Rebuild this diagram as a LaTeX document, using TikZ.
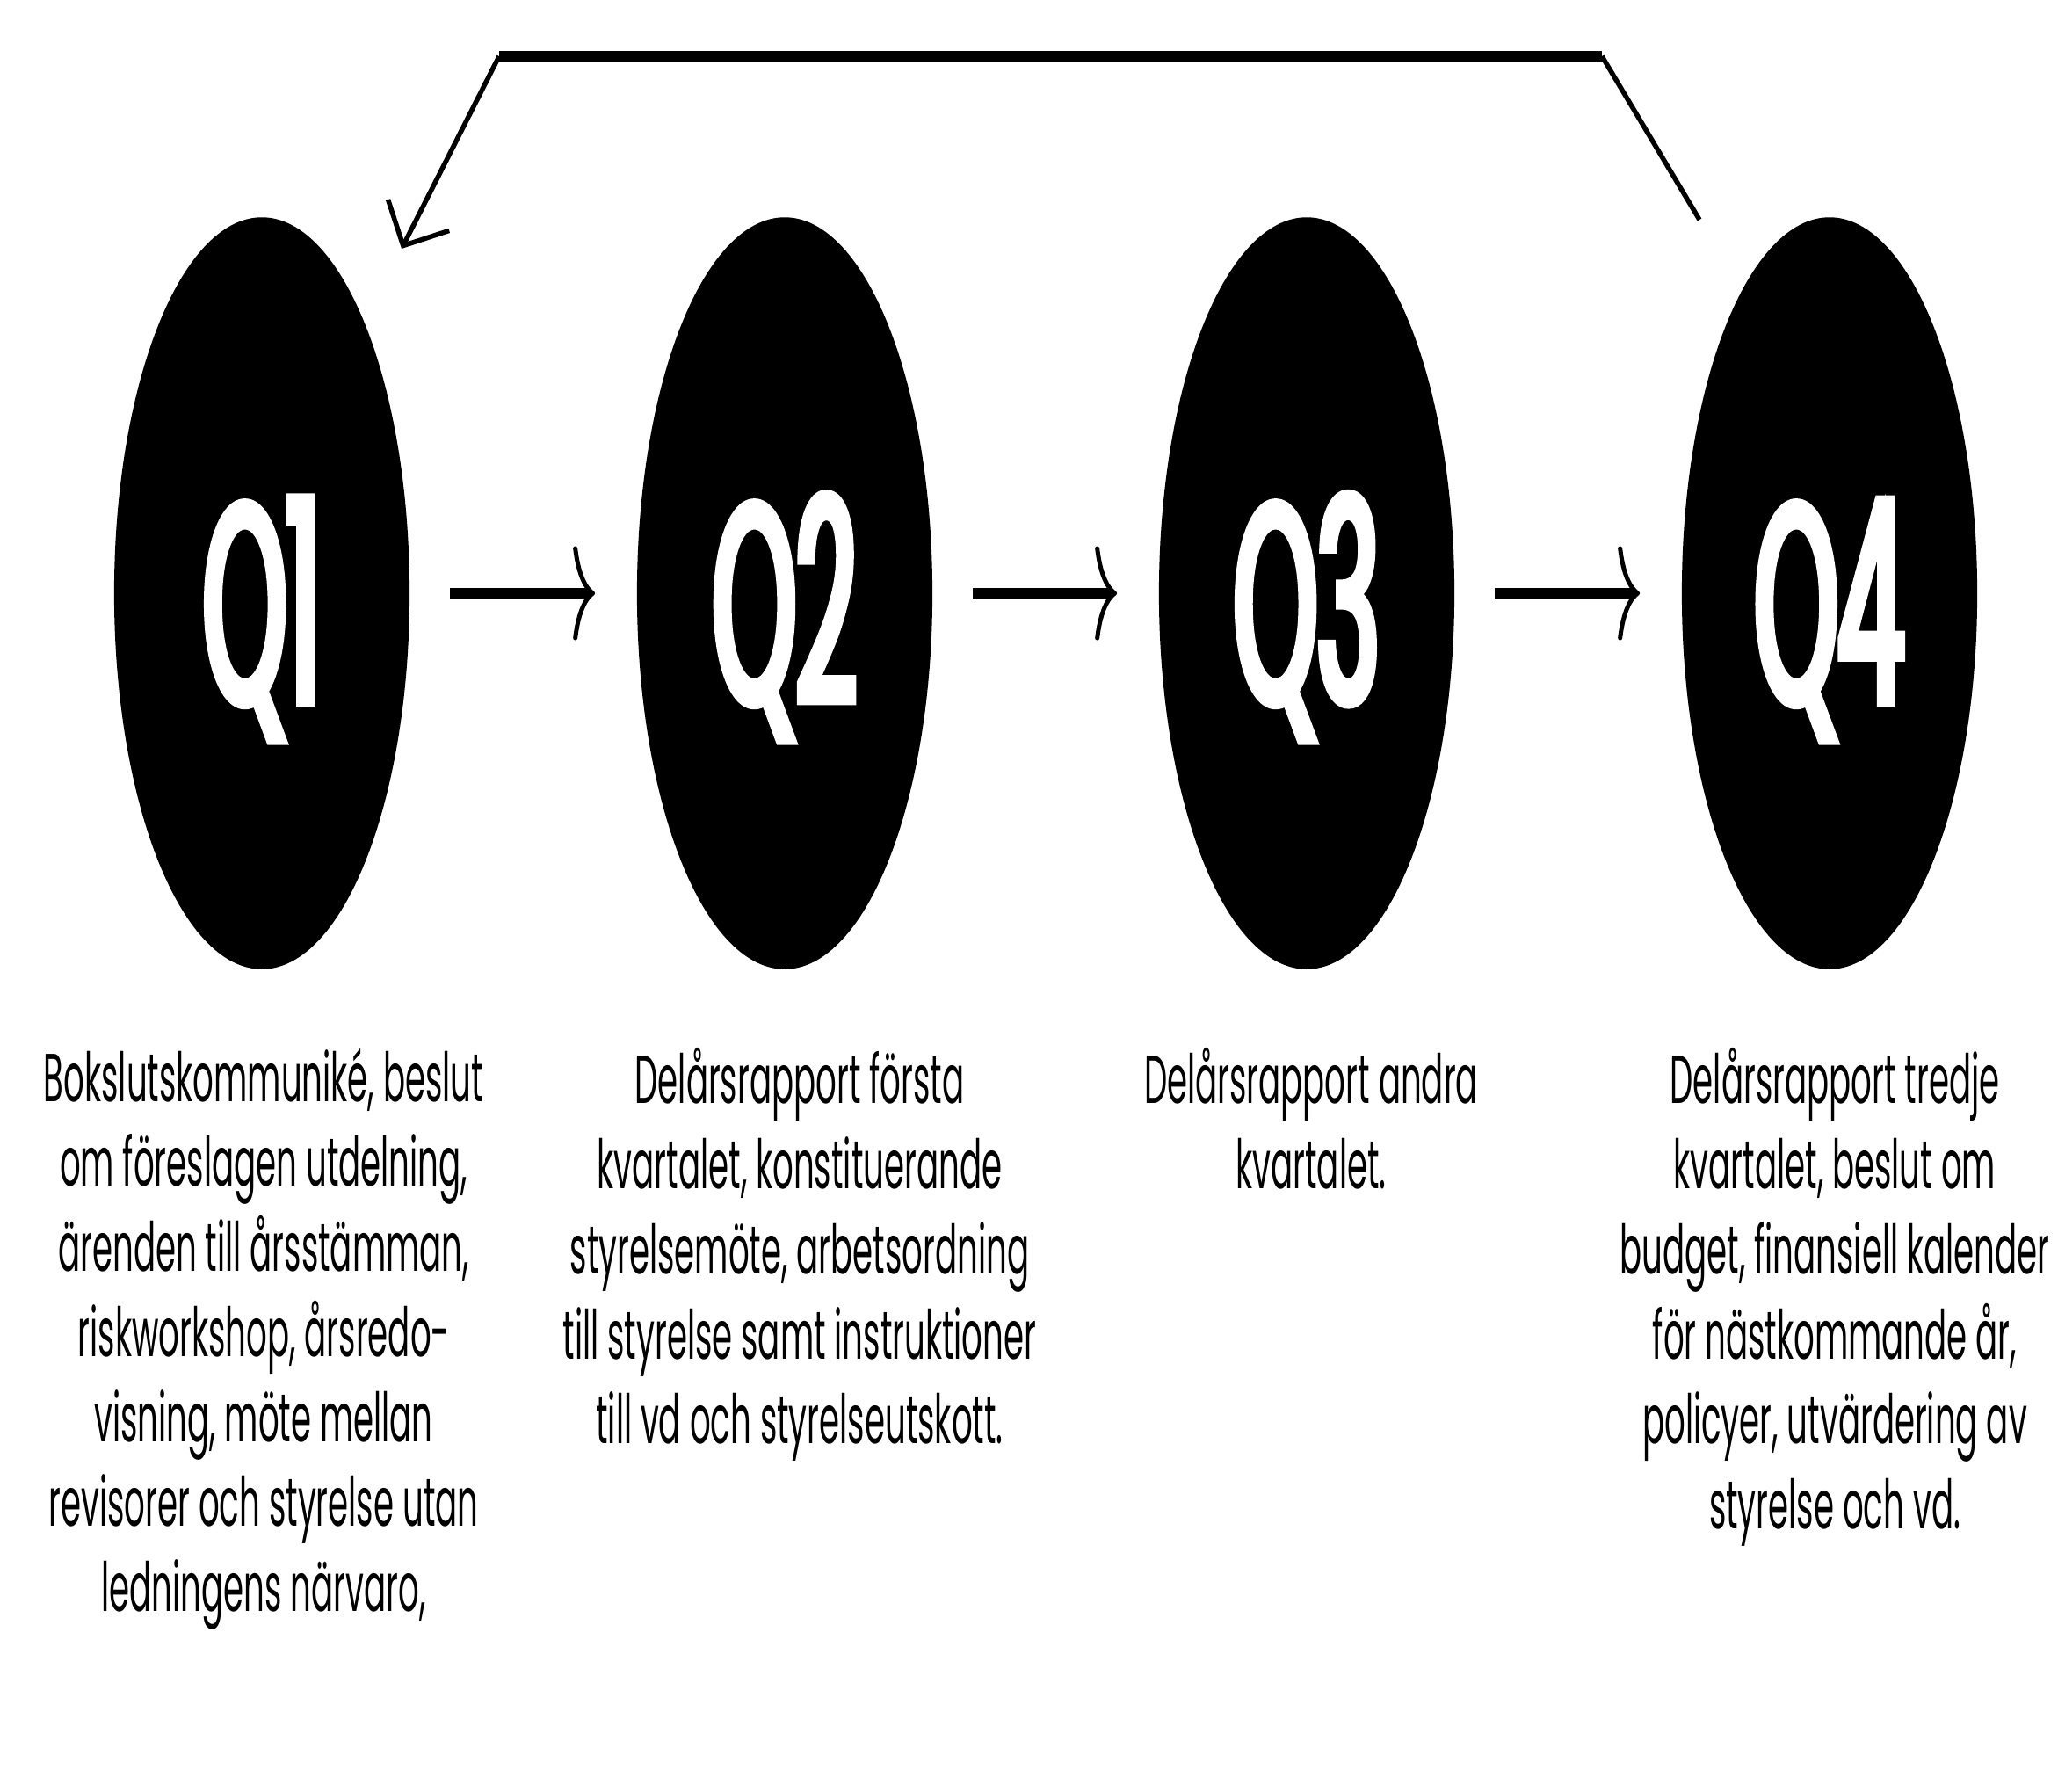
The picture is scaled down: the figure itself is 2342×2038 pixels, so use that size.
\documentclass[tikz,border=0pt]{standalone}
\usepackage{fontspec}
\setmainfont{Poppins}
\newfontfamily\qfont[FakeStretch=0.37,FakeBold=3]{Poppins}
\newfontfamily\descfont[FakeStretch=0.48]{Poppins}
\usetikzlibrary{arrows.meta,positioning,shapes.geometric}

\begin{document}
\begin{tikzpicture}[x=0.01cm,y=-0.01cm,
  qtr/.style={ellipse,fill=black,minimum width=3.36cm,minimum height=8.55cm,
              inner sep=0pt,text=white,font=\qfont\fontsize{92}{92}\selectfont,
              text height=2.5cm,text depth=0cm},
  desc/.style={anchor=north,align=center,inner sep=0pt,
               font=\descfont\fontsize{22}{27.5}\selectfont},
  flow/.style={line width=0.12cm,
               -{Computer Modern Rightarrow[length=0.25cm,width=1.07cm,line width=0.05cm]},
               shorten <=0.45cm,shorten >=0.47cm},
  back/.style={line width=0.055cm},
]
  \useasboundingbox (0,0) rectangle (2342,2038);

  % quarters
  \node[qtr] (q1) at (298,675)  {Q1};
  \node[qtr] (q2) at (893,675)  {Q2};
  \node[qtr] (q3) at (1487,675) {Q3};
  \node[qtr] (q4) at (2082,675) {Q4};

  \foreach \a/\b in {q1/q2,q2/q3,q3/q4}
    \draw[flow] (\a) -- (\b);

  % back to Q1
  \coordinate (rs) at (1934,250);
  \coordinate (rr) at (1823,64);
  \coordinate (rl) at (568,64);
  \coordinate (re) at (457,283);
  \draw[back] (rs) -- (rr);
  \draw[line width=0.13cm] (rr) -- (rl);
  \draw[back,-{Straight Barb[length=0.39cm,width=0.78cm]}] (rl) -- (re);

  % texts
  \node[desc] (d1) at (300,1192) {Bokslutskommuniké, beslut\\
    om föreslagen utdelning,\\ ärenden till årsstämman,\\
    riskworkshop, årsredo-\\ visning, möte mellan\\
    revisorer och styrelse utan\\ ledningens närvaro,};
  \node[desc] (d2) at (910,1192) {Delårsrapport första\\
    kvartalet, konstituerande\\ styrelsemöte, arbetsordning\\
    till styrelse samt instruktioner\\ till vd och styrelseutskott.};
  \node[desc] (d3) at (1492,1192) {Delårsrapport andra\\ kvartalet.};
  \node[desc] (d4) at (2088,1192) {Delårsrapport tredje\\
    kvartalet, beslut om\\ budget, finansiell kalender\\
    för nästkommande år,\\ policyer, utvärdering av\\
    styrelse och vd.};
\end{tikzpicture}
\end{document}
